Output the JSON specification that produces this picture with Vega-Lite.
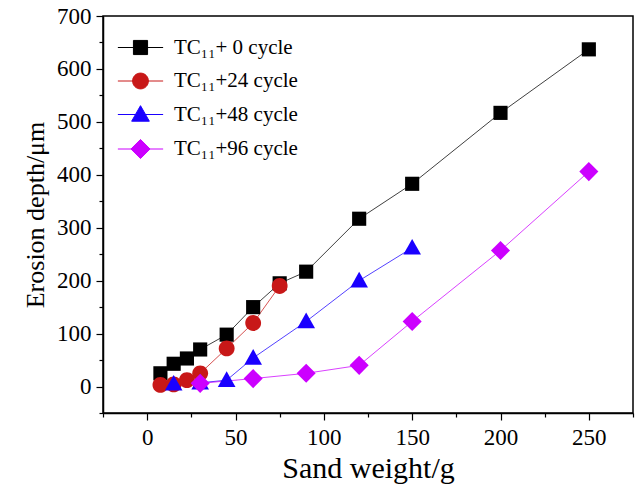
{
  "$schema": "https://vega.github.io/schema/vega-lite/v6.json",
  "autosize": {"type": "none"},
  "width": 530,
  "height": 397,
  "padding": {"left": 103, "top": 16, "right": 9, "bottom": 74},
  "background": "white",
  "config": {
    "font": "Liberation Serif",
    "view": {"stroke": "#000", "strokeWidth": 1.5},
    "axis": {
      "domainColor": "#000", "domainWidth": 1.5, "tickColor": "#000", "tickWidth": 1.2,
      "labelFont": "Liberation Serif", "labelFontSize": 23, "labelColor": "#000",
      "titleFont": "Liberation Serif", "titleFontWeight": "normal", "titleColor": "#000",
      "grid": false
    },
    "legend": {
      "disable": false,
      "labelFont": "Liberation Serif",
      "labelFontSize": 21,
      "labelColor": "#000"
    }
  },
  "data": {"values": [
    {"x": 7.5, "y": 25, "series": "TC₁₁+ 0 cycle"},
    {"x": 15, "y": 43, "series": "TC₁₁+ 0 cycle"},
    {"x": 22.5, "y": 53, "series": "TC₁₁+ 0 cycle"},
    {"x": 30, "y": 70, "series": "TC₁₁+ 0 cycle"},
    {"x": 45, "y": 98, "series": "TC₁₁+ 0 cycle"},
    {"x": 60, "y": 150, "series": "TC₁₁+ 0 cycle"},
    {"x": 75, "y": 195, "series": "TC₁₁+ 0 cycle"},
    {"x": 90, "y": 217, "series": "TC₁₁+ 0 cycle"},
    {"x": 120, "y": 317, "series": "TC₁₁+ 0 cycle"},
    {"x": 150, "y": 383, "series": "TC₁₁+ 0 cycle"},
    {"x": 200, "y": 517, "series": "TC₁₁+ 0 cycle"},
    {"x": 250, "y": 637, "series": "TC₁₁+ 0 cycle"},
    {"x": 7.5, "y": 3, "series": "TC₁₁+24 cycle"},
    {"x": 15, "y": 4, "series": "TC₁₁+24 cycle"},
    {"x": 22.5, "y": 12, "series": "TC₁₁+24 cycle"},
    {"x": 30, "y": 25, "series": "TC₁₁+24 cycle"},
    {"x": 45, "y": 72, "series": "TC₁₁+24 cycle"},
    {"x": 60, "y": 120, "series": "TC₁₁+24 cycle"},
    {"x": 75, "y": 190, "series": "TC₁₁+24 cycle"},
    {"x": 15, "y": 5, "series": "TC₁₁+48 cycle"},
    {"x": 30, "y": 7, "series": "TC₁₁+48 cycle"},
    {"x": 45, "y": 12, "series": "TC₁₁+48 cycle"},
    {"x": 60, "y": 54, "series": "TC₁₁+48 cycle"},
    {"x": 90, "y": 123, "series": "TC₁₁+48 cycle"},
    {"x": 120, "y": 200, "series": "TC₁₁+48 cycle"},
    {"x": 150, "y": 262, "series": "TC₁₁+48 cycle"},
    {"x": 30, "y": 6, "series": "TC₁₁+96 cycle"},
    {"x": 60, "y": 15, "series": "TC₁₁+96 cycle"},
    {"x": 90, "y": 25, "series": "TC₁₁+96 cycle"},
    {"x": 120, "y": 40, "series": "TC₁₁+96 cycle"},
    {"x": 150, "y": 123, "series": "TC₁₁+96 cycle"},
    {"x": 200, "y": 257, "series": "TC₁₁+96 cycle"},
    {"x": 250, "y": 406, "series": "TC₁₁+96 cycle"}
  ]},
  "encoding": {
    "x": {
      "field": "x", "type": "quantitative",
      "scale": {"domain": [-25, 275], "nice": false, "zero": false},
      "axis": {
        "title": "Sand weight/g",
        "titleFontSize": 30,
        "values": [-25, 0, 25, 50, 75, 100, 125, 150, 175, 200, 225, 250, 275],
        "labelExpr": "datum.value % 50 === 0 ? datum.label : ''",
        "tickSize": {"condition": {"test": "datum.value % 50 === 0", "value": 7}, "value": 4},
        "labelPadding": 6,
        "titlePadding": 4
      }
    },
    "y": {
      "field": "y", "type": "quantitative",
      "scale": {"domain": [-50, 700], "nice": false, "zero": false},
      "axis": {
        "title": "Erosion depth/μm",
        "titleFontSize": 26,
        "values": [-50, 0, 50, 100, 150, 200, 250, 300, 350, 400, 450, 500, 550, 600, 650, 700],
        "labelExpr": "datum.value % 100 === 0 ? datum.label : ''",
        "tickSize": {"condition": {"test": "datum.value % 100 === 0", "value": 7}, "value": 4},
        "labelPadding": 5,
        "titlePadding": 8
      }
    },
    "color": {
      "field": "series", "type": "nominal",
      "scale": {
        "domain": ["TC₁₁+ 0 cycle", "TC₁₁+24 cycle", "TC₁₁+48 cycle", "TC₁₁+96 cycle"],
        "range": ["#000000", "#C81818", "#1A00FF", "#CC00FF"]
      },
      "legend": {
        "title": null,
        "orient": "none",
        "legendX": 27,
        "legendY": 21,
        "symbolSize": 200,
        "symbolStrokeWidth": 1,
        "labelOffset": 23,
        "rowPadding": 11.5,
        "encode": {
          "symbols": {
            "update": {
              "shape": {"signal": "datum.value === 'TC₁₁+ 0 cycle' ? 'M-3.2,0H3.2M-1,-1H1V1H-1Z' : datum.value === 'TC₁₁+24 cycle' ? 'M-3.2,0H3.2M-1.12,0A1.12,1.12 0 1,0 1.12,0A1.12,1.12 0 1,0 -1.12,0Z' : datum.value === 'TC₁₁+48 cycle' ? 'M-3.2,0H3.2M0,-1.25L1.25,0.95H-1.25Z' : 'M-3.2,0H3.2M-1.35,0L0,-1.35L1.35,0L0,1.35Z'"},
              "stroke": {"scale": "color", "field": "value"},
              "fill": {"scale": "color", "field": "value"},
              "strokeWidth": {"value": 1},
              "opacity": {"value": 1}
            }
          }
        }
      }
    }
  },
  "layer": [
    {
      "mark": {"type": "line", "strokeWidth": 1, "strokeOpacity": 0.75}
    },
    {
      "mark": {
        "type": "point", "filled": true, "opacity": 1, "strokeWidth": 1, "size": 200,
        "shape": {"expr": "datum.series === 'TC₁₁+ 0 cycle' ? 'M-1,-1H1V1H-1Z' : datum.series === 'TC₁₁+24 cycle' ? 'M-1.12,0A1.12,1.12 0 1,0 1.12,0A1.12,1.12 0 1,0 -1.12,0Z' : datum.series === 'TC₁₁+48 cycle' ? 'M0,-1.25L1.25,0.95H-1.25Z' : 'M-1.35,0L0,-1.35L1.35,0L0,1.35Z'"}
      }
    }
  ]
}
